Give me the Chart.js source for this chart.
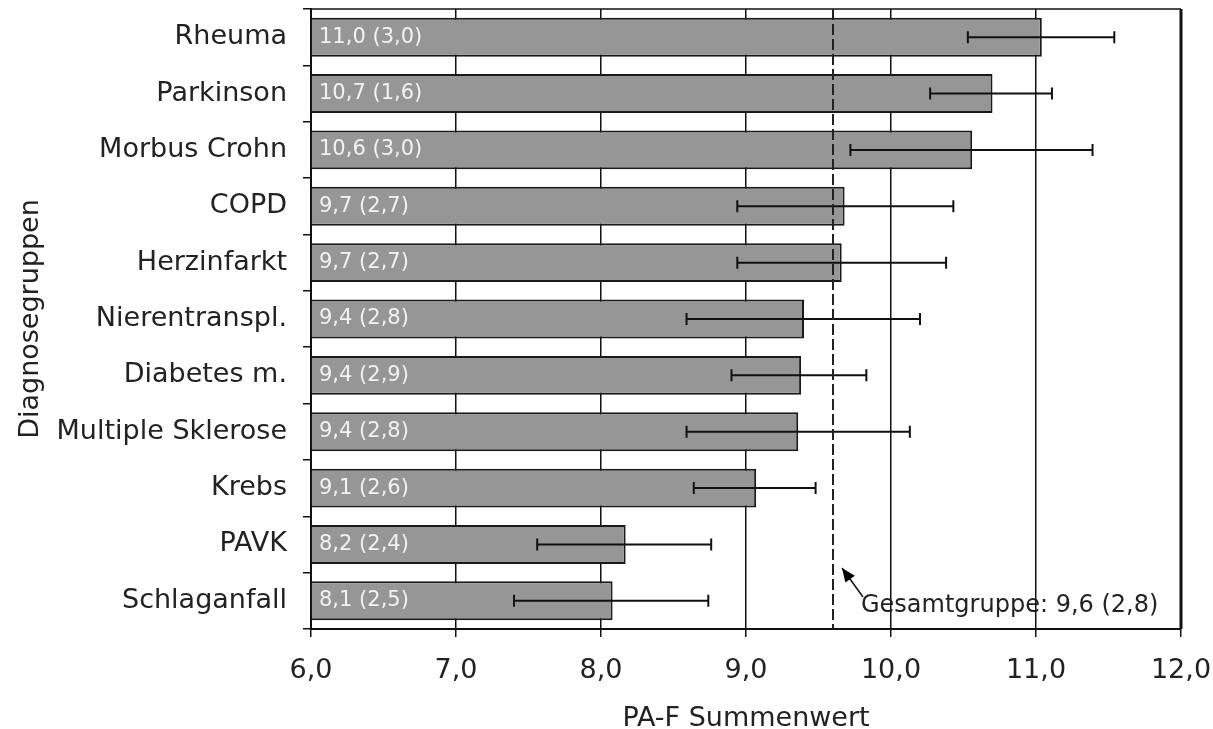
<!DOCTYPE html>
<html>
<head>
<meta charset="utf-8">
<script src="https://cdn.jsdelivr.net/npm/chart.js@4"></script>
<style>
    body { margin: 0; background: #fff; }
    #wrap { width: 1213px; height: 729px; }
</style>
</head>
<body>
<div id="wrap"><canvas id="chart" width="1213" height="729"></canvas></div>
<script>
const groups = ['Rheuma', 'Parkinson', 'Morbus Crohn', 'COPD', 'Herzinfarkt', 'Nierentranspl.', 'Diabetes m.', 'Multiple Sklerose', 'Krebs', 'PAVK', 'Schlaganfall'];
const means = [11.04, 10.70, 10.56, 9.68, 9.66, 9.40, 9.38, 9.36, 9.07, 8.17, 8.08];
const sds = [3.0, 1.6, 3.0, 2.7, 2.7, 2.8, 2.9, 2.8, 2.6, 2.4, 2.5];
const errLow = [10.53, 10.27, 9.72, 8.94, 8.94, 8.59, 8.90, 8.59, 8.64, 7.56, 7.40];
const errHigh = [11.54, 11.11, 11.39, 10.43, 10.38, 10.20, 9.83, 10.13, 9.48, 8.76, 8.74];
const xTicks = [6, 7, 8, 9, 10, 11, 12];
const totalMean = 9.6;
const totalSd = 2.8;

const FONT = '"DejaVu Sans", Verdana, sans-serif';
const fmt = v => v.toFixed(1).replace('.', ',');

const frame = {
    id: 'frame',
    afterDatasetsDraw(chart) {
        const { ctx, chartArea: a } = chart;
        ctx.save();
        ctx.strokeStyle = '#111';
        ctx.lineWidth = 1.5;
        ctx.beginPath();
        ctx.moveTo(a.left, a.top);
        ctx.lineTo(a.right, a.top);
        ctx.stroke();
        ctx.lineWidth = 3;
        ctx.beginPath();
        ctx.moveTo(a.right, a.top);
        ctx.lineTo(a.right, a.bottom);
        ctx.stroke();
        ctx.restore();
    }
};

const barLabels = {
    id: 'barLabels',
    afterDatasetsDraw(chart) {
        const { ctx, chartArea: a } = chart;
        const meta = chart.getDatasetMeta(0);
        ctx.save();
        ctx.font = `21px ${FONT}`;
        ctx.fillStyle = '#f2f2f2';
        ctx.textAlign = 'left';
        ctx.textBaseline = 'middle';
        meta.data.forEach((bar, i) => {
            ctx.fillText(`${fmt(means[i])} (${fmt(sds[i])})`, a.left + 8, bar.y);
        });
        ctx.restore();
    }
};

const errorBars = {
    id: 'errorBars',
    afterDatasetsDraw(chart) {
        const { ctx } = chart;
        const x = chart.scales.x;
        const meta = chart.getDatasetMeta(0);
        ctx.save();
        ctx.strokeStyle = '#111';
        ctx.lineWidth = 2;
        meta.data.forEach((bar, i) => {
            const x1 = x.getPixelForValue(errLow[i]);
            const x2 = x.getPixelForValue(errHigh[i]);
            const y = bar.y;
            ctx.beginPath();
            ctx.moveTo(x1, y);
            ctx.lineTo(x2, y);
            ctx.moveTo(x1, y - 6);
            ctx.lineTo(x1, y + 6);
            ctx.moveTo(x2, y - 6);
            ctx.lineTo(x2, y + 6);
            ctx.stroke();
        });
        ctx.restore();
    }
};

const totalLine = {
    id: 'totalLine',
    afterDatasetsDraw(chart) {
        const { ctx, chartArea: a } = chart;
        const px = chart.scales.x.getPixelForValue(totalMean);
        ctx.save();
        ctx.strokeStyle = '#222';
        ctx.lineWidth = 2;
        ctx.setLineDash([11, 4]);
        ctx.beginPath();
        ctx.moveTo(px, a.top);
        ctx.lineTo(px, a.bottom);
        ctx.stroke();
        ctx.setLineDash([]);

        // arrow pointing to the line
        const tipX = px + 9, tipY = a.bottom - 61;
        const tailX = px + 30, tailY = a.bottom - 32;
        const ang = Math.atan2(tipY - tailY, tipX - tailX);
        ctx.lineWidth = 1.5;
        ctx.strokeStyle = '#111';
        ctx.beginPath();
        ctx.moveTo(tailX, tailY);
        ctx.lineTo(tipX, tipY);
        ctx.stroke();
        ctx.fillStyle = '#000';
        ctx.beginPath();
        ctx.moveTo(tipX, tipY);
        ctx.lineTo(tipX - 15 * Math.cos(ang - 0.4), tipY - 15 * Math.sin(ang - 0.4));
        ctx.lineTo(tipX - 15 * Math.cos(ang + 0.4), tipY - 15 * Math.sin(ang + 0.4));
        ctx.closePath();
        ctx.fill();

        ctx.font = `24px ${FONT}`;
        ctx.fillStyle = '#222';
        ctx.textAlign = 'left';
        ctx.textBaseline = 'middle';
        ctx.fillText(`Gesamtgruppe: ${fmt(totalMean)} (${fmt(totalSd)})`, px + 28, a.bottom - 23);
        ctx.restore();
    }
};

new Chart(document.getElementById('chart'), {
    type: 'bar',
    data: {
        labels: groups,
        datasets: [{
            data: means,
            base: xTicks[0],
            backgroundColor: '#969696',
            borderColor: '#1a1a1a',
            borderWidth: 2,
            borderSkipped: 'start',
            categoryPercentage: 0.69,
            barPercentage: 1
        }]
    },
    options: {
        indexAxis: 'y',
        responsive: false,
        animation: false,
        devicePixelRatio: 1,
        layout: { padding: { top: 9, right: 32, left: 0, bottom: 0 } },
        plugins: { legend: { display: false }, tooltip: { enabled: false } },
        scales: {
            x: {
                min: xTicks[0],
                max: xTicks[xTicks.length - 1],
                afterBuildTicks: s => { s.ticks = xTicks.map(v => ({ value: v })); },
                afterFit: s => {
                    s.height = 100;
                    s.paddingLeft = 0;
                    s.paddingRight = 0;
                },
                grid: { color: '#111', lineWidth: 1.5, tickLength: 8 },
                border: { color: '#111', width: 2 },
                ticks: {
                    font: { family: FONT, size: 27 },
                    color: '#222',
                    padding: 18,
                    callback: v => fmt(v)
                },
                title: {
                    display: true,
                    text: 'PA-F Summenwert',
                    font: { family: FONT, size: 27, lineHeight: 0.75 },
                    color: '#222',
                    padding: { top: 0, bottom: 0 }
                }
            },
            y: {
                afterFit: s => {
                    s.width = 311;
                    s.paddingTop = 0;
                    s.paddingBottom = 0;
                },
                grid: { drawOnChartArea: false, offset: true, color: '#111', lineWidth: 1.5, tickLength: 8 },
                border: { color: '#111', width: 2 },
                ticks: {
                    font: { family: FONT, size: 27 },
                    color: '#222',
                    padding: 16
                },
                title: {
                    display: true,
                    text: 'Diagnosegruppen',
                    font: { family: FONT, size: 27 },
                    color: '#222',
                    padding: { top: 15, bottom: 0 }
                }
            }
        }
    },
    plugins: [frame, errorBars, barLabels, totalLine]
});
</script>
</body>
</html>
